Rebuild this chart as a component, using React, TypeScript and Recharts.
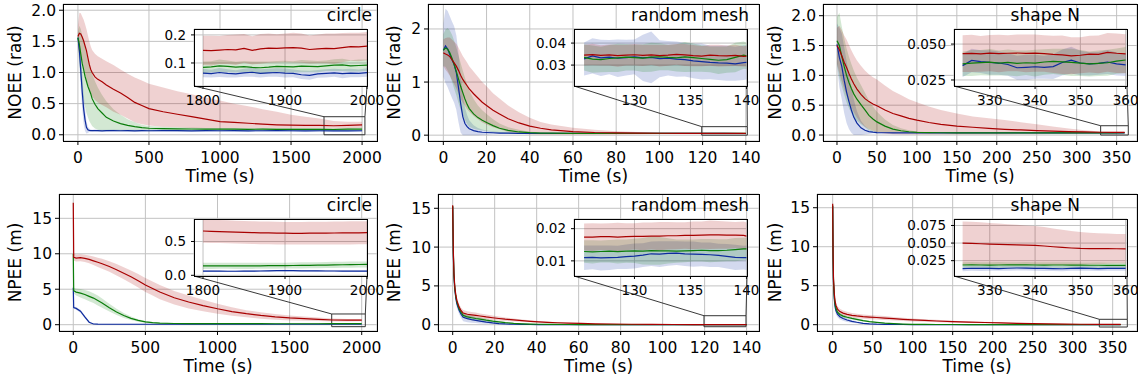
import React from "react";
import { ComposedChart, Area, Line, XAxis, YAxis, CartesianGrid, ReferenceArea } from "recharts";

const FONT = "'DejaVu Sans', Verdana, sans-serif";
const RED = "#a80000";
const GREEN = "#0b7d0b";
const BLUE = "#0d2b9e";
const GRID = "#c2c2c2";
const BAND_OPACITY = 0.18;

// ---- NOEE, circle (top left) ----
const OC_T = [0, 10, 20, 30, 40, 50, 60, 70, 80, 90, 100, 120, 140, 170, 200, 250, 300, 350, 400, 450, 500, 600, 700, 800, 900, 1000, 1100, 1200, 1300, 1400, 1500, 1600, 1700, 1800, 1900, 2000];
const OC_R = [1.58, 1.63, 1.62, 1.57, 1.51, 1.43, 1.35, 1.24, 1.13, 1.05, 1.0, 0.93, 0.89, 0.85, 0.8, 0.73, 0.67, 0.6, 0.52, 0.47, 0.42, 0.37, 0.33, 0.29, 0.25, 0.21, 0.2, 0.185, 0.17, 0.16, 0.155, 0.15, 0.15, 0.145, 0.152, 0.16];
const OC_R_HI = [1.75, 1.96, 1.95, 1.9, 1.85, 1.78, 1.7, 1.6, 1.5, 1.42, 1.36, 1.3, 1.26, 1.22, 1.18, 1.12, 1.05, 0.98, 0.92, 0.87, 0.82, 0.76, 0.7, 0.65, 0.6, 0.55, 0.5, 0.46, 0.41, 0.37, 0.32, 0.29, 0.26, 0.22, 0.21, 0.21];
const OC_R_LO = [1.4, 1.3, 1.25, 1.2, 1.1, 1.0, 0.9, 0.8, 0.72, 0.66, 0.62, 0.56, 0.52, 0.48, 0.44, 0.37, 0.32, 0.26, 0.2, 0.17, 0.15, 0.13, 0.12, 0.11, 0.1, 0.1, 0.1, 0.1, 0.1, 0.1, 0.1, 0.1, 0.1, 0.1, 0.1, 0.11];
const OC_G = [1.56, 1.45, 1.3, 1.15, 1.05, 0.94, 0.86, 0.78, 0.72, 0.66, 0.58, 0.49, 0.42, 0.35, 0.28, 0.22, 0.18, 0.15, 0.13, 0.115, 0.105, 0.1, 0.095, 0.093, 0.092, 0.09, 0.09, 0.088, 0.09, 0.088, 0.087, 0.088, 0.086, 0.085, 0.09, 0.092];
const OC_G_HI = [1.65, 1.75, 1.7, 1.6, 1.5, 1.4, 1.3, 1.2, 1.12, 1.05, 0.98, 0.86, 0.76, 0.64, 0.54, 0.41, 0.32, 0.25, 0.2, 0.16, 0.14, 0.13, 0.12, 0.115, 0.11, 0.11, 0.11, 0.11, 0.11, 0.11, 0.11, 0.11, 0.11, 0.11, 0.112, 0.114];
const OC_G_LO = [1.45, 1.15, 0.9, 0.7, 0.55, 0.45, 0.35, 0.28, 0.22, 0.18, 0.14, 0.1, 0.08, 0.07, 0.06, 0.06, 0.06, 0.06, 0.06, 0.06, 0.06, 0.065, 0.068, 0.07, 0.07, 0.07, 0.07, 0.068, 0.07, 0.068, 0.067, 0.068, 0.066, 0.065, 0.07, 0.072];
const OC_B = [1.56, 1.36, 1.03, 0.7, 0.42, 0.24, 0.12, 0.08, 0.07, 0.068, 0.066, 0.068, 0.066, 0.064, 0.066, 0.067, 0.065, 0.066, 0.064, 0.066, 0.065, 0.067, 0.066, 0.064, 0.066, 0.065, 0.066, 0.064, 0.065, 0.066, 0.065, 0.064, 0.065, 0.063, 0.064, 0.065];
const OC_B_HI = [1.62, 1.55, 1.3, 0.98, 0.66, 0.42, 0.22, 0.13, 0.1, 0.085, 0.082, 0.084, 0.082, 0.08, 0.082, 0.083, 0.081, 0.082, 0.08, 0.082, 0.081, 0.083, 0.082, 0.08, 0.082, 0.081, 0.082, 0.08, 0.081, 0.082, 0.081, 0.08, 0.081, 0.079, 0.08, 0.081];
const OC_B_LO = [1.5, 1.15, 0.75, 0.42, 0.18, 0.06, 0.02, 0.03, 0.045, 0.052, 0.05, 0.052, 0.05, 0.048, 0.05, 0.051, 0.049, 0.05, 0.048, 0.05, 0.049, 0.051, 0.05, 0.048, 0.05, 0.049, 0.05, 0.048, 0.049, 0.05, 0.049, 0.048, 0.049, 0.047, 0.048, 0.049];

// ---- NOEE, random mesh (top middle) ----
const OM_T = [0, 1, 2, 3, 4, 5, 6, 7, 8, 9, 10, 11, 12, 14, 16, 18, 20, 23, 26, 30, 35, 40, 45, 50, 60, 70, 80, 90, 100, 110, 120, 130, 140];
const OM_R = [1.55, 1.53, 1.51, 1.48, 1.42, 1.36, 1.3, 1.22, 1.13, 1.05, 0.99, 0.93, 0.87, 0.78, 0.7, 0.62, 0.56, 0.47, 0.4, 0.31, 0.23, 0.17, 0.13, 0.1, 0.068, 0.05, 0.042, 0.038, 0.036, 0.035, 0.035, 0.034, 0.034];
const OM_R_HI = [1.8, 1.83, 1.84, 1.84, 1.8, 1.76, 1.72, 1.65, 1.57, 1.49, 1.43, 1.37, 1.3, 1.2, 1.1, 1.0, 0.92, 0.79, 0.69, 0.56, 0.43, 0.33, 0.25, 0.2, 0.138, 0.1, 0.072, 0.058, 0.051, 0.045, 0.043, 0.04, 0.04];
const OM_R_LO = [1.3, 1.23, 1.18, 1.12, 1.04, 0.96, 0.88, 0.79, 0.69, 0.61, 0.55, 0.49, 0.44, 0.36, 0.3, 0.24, 0.2, 0.15, 0.11, 0.06, 0.03, 0.012, 0.01, 0.008, 0.008, 0.01, 0.014, 0.018, 0.021, 0.025, 0.027, 0.028, 0.028];
const OM_G = [1.6, 1.64, 1.62, 1.55, 1.45, 1.33, 1.2, 1.06, 0.92, 0.8, 0.68, 0.58, 0.5, 0.4, 0.33, 0.28, 0.24, 0.18, 0.13, 0.09, 0.06, 0.046, 0.04, 0.037, 0.035, 0.034, 0.034, 0.034, 0.034, 0.034, 0.034, 0.034, 0.034];
const OM_G_HI = [1.9, 1.99, 2.02, 1.97, 1.89, 1.78, 1.65, 1.51, 1.36, 1.22, 1.08, 0.95, 0.84, 0.68, 0.56, 0.47, 0.4, 0.3, 0.22, 0.15, 0.1, 0.066, 0.055, 0.047, 0.041, 0.04, 0.04, 0.04, 0.04, 0.04, 0.04, 0.04, 0.04];
const OM_G_LO = [1.3, 1.29, 1.22, 1.13, 1.01, 0.88, 0.75, 0.61, 0.48, 0.38, 0.28, 0.21, 0.16, 0.12, 0.1, 0.09, 0.08, 0.06, 0.04, 0.03, 0.02, 0.026, 0.025, 0.027, 0.029, 0.028, 0.028, 0.028, 0.028, 0.028, 0.028, 0.028, 0.028];
const OM_B = [1.6, 1.68, 1.62, 1.52, 1.42, 1.33, 1.18, 0.9, 0.6, 0.35, 0.22, 0.16, 0.12, 0.085, 0.065, 0.055, 0.05, 0.045, 0.04, 0.037, 0.035, 0.034, 0.034, 0.034, 0.034, 0.033, 0.033, 0.033, 0.033, 0.033, 0.033, 0.032, 0.031];
const OM_B_HI = [2.1, 2.38, 2.34, 2.24, 2.14, 2.05, 1.88, 1.55, 1.15, 0.75, 0.52, 0.38, 0.28, 0.185, 0.135, 0.105, 0.09, 0.075, 0.06, 0.052, 0.043, 0.042, 0.042, 0.042, 0.042, 0.041, 0.041, 0.041, 0.041, 0.041, 0.041, 0.04, 0.039];
const OM_B_LO = [1.1, 0.98, 0.9, 0.8, 0.7, 0.61, 0.48, 0.25, 0.05, 0.0, 0.0, 0.0, 0.0, 0.0, 0.0, 0.005, 0.01, 0.015, 0.02, 0.022, 0.027, 0.026, 0.026, 0.026, 0.026, 0.025, 0.025, 0.025, 0.025, 0.025, 0.025, 0.024, 0.023];

// ---- NOEE, shape N (top right) ----
const OS_T = [0, 3, 6, 9, 12, 15, 18, 21, 25, 30, 35, 40, 45, 50, 60, 70, 80, 90, 100, 115, 130, 150, 170, 190, 210, 230, 250, 270, 290, 310, 330, 345, 360];
const OS_R = [1.5, 1.43, 1.33, 1.22, 1.13, 1.03, 0.94, 0.86, 0.77, 0.68, 0.61, 0.56, 0.52, 0.49, 0.42, 0.36, 0.32, 0.28, 0.25, 0.21, 0.18, 0.15, 0.13, 0.11, 0.095, 0.085, 0.075, 0.066, 0.058, 0.052, 0.047, 0.043, 0.044];
const OS_R_HI = [1.8, 1.83, 1.76, 1.67, 1.6, 1.51, 1.42, 1.34, 1.25, 1.16, 1.08, 1.02, 0.97, 0.93, 0.83, 0.74, 0.67, 0.6, 0.55, 0.48, 0.42, 0.36, 0.31, 0.28, 0.25, 0.215, 0.18, 0.145, 0.11, 0.08, 0.058, 0.056, 0.057];
const OS_R_LO = [1.2, 1.03, 0.9, 0.77, 0.66, 0.55, 0.46, 0.38, 0.29, 0.2, 0.14, 0.1, 0.07, 0.05, 0.02, 0.012, 0.01, 0.01, 0.01, 0.01, 0.01, 0.01, 0.01, 0.01, 0.01, 0.012, 0.014, 0.016, 0.02, 0.024, 0.03, 0.031, 0.031];
const OS_G = [1.58, 1.5, 1.32, 1.15, 1.0, 0.88, 0.78, 0.69, 0.6, 0.51, 0.42, 0.33, 0.27, 0.22, 0.15, 0.1, 0.072, 0.055, 0.046, 0.04, 0.038, 0.037, 0.037, 0.037, 0.037, 0.037, 0.037, 0.037, 0.037, 0.037, 0.037, 0.037, 0.038];
const OS_G_HI = [1.98, 2.05, 1.82, 1.62, 1.45, 1.31, 1.19, 1.08, 0.96, 0.84, 0.71, 0.58, 0.48, 0.39, 0.26, 0.17, 0.112, 0.08, 0.061, 0.048, 0.046, 0.045, 0.045, 0.045, 0.045, 0.045, 0.045, 0.045, 0.045, 0.045, 0.045, 0.045, 0.046];
const OS_G_LO = [1.18, 0.95, 0.82, 0.68, 0.55, 0.45, 0.37, 0.3, 0.24, 0.18, 0.13, 0.08, 0.06, 0.05, 0.04, 0.03, 0.032, 0.03, 0.031, 0.032, 0.03, 0.029, 0.029, 0.029, 0.029, 0.029, 0.029, 0.029, 0.029, 0.029, 0.029, 0.029, 0.03];
const OS_B = [1.52, 1.3, 1.15, 0.92, 0.72, 0.56, 0.42, 0.3, 0.2, 0.12, 0.08, 0.058, 0.048, 0.042, 0.038, 0.037, 0.036, 0.036, 0.036, 0.036, 0.036, 0.036, 0.036, 0.036, 0.036, 0.036, 0.036, 0.036, 0.036, 0.036, 0.036, 0.036, 0.035];
const OS_B_HI = [1.87, 1.8, 1.7, 1.47, 1.24, 1.02, 0.8, 0.6, 0.4, 0.24, 0.15, 0.098, 0.068, 0.057, 0.046, 0.045, 0.044, 0.044, 0.044, 0.044, 0.044, 0.044, 0.044, 0.044, 0.044, 0.044, 0.044, 0.044, 0.044, 0.044, 0.044, 0.044, 0.043];
const OS_B_LO = [1.17, 0.8, 0.6, 0.37, 0.2, 0.1, 0.04, 0.0, 0.0, 0.0, 0.01, 0.018, 0.028, 0.027, 0.03, 0.029, 0.028, 0.028, 0.028, 0.028, 0.028, 0.028, 0.028, 0.028, 0.028, 0.028, 0.028, 0.028, 0.028, 0.028, 0.028, 0.028, 0.027];

// ---- NPEE, circle (bottom left) ----
const PC_T = [0, 3, 20, 50, 80, 110, 140, 170, 200, 250, 300, 350, 400, 450, 500, 550, 600, 700, 800, 900, 1000, 1100, 1200, 1300, 1400, 1500, 1600, 1700, 1800, 1900, 2000];
const PC_R = [17.2, 9.5, 9.4, 9.45, 9.35, 9.2, 9.0, 8.8, 8.6, 8.2, 7.75, 7.25, 6.75, 6.2, 5.6, 5.1, 4.6, 3.8, 3.2, 2.7, 2.25, 1.85, 1.55, 1.3, 1.1, 0.95, 0.85, 0.76, 0.66, 0.63, 0.64];
const PC_R_HI = [17.4, 10.0, 9.9, 9.95, 9.85, 9.75, 9.6, 9.45, 9.3, 8.95, 8.55, 8.1, 7.65, 7.15, 6.6, 6.1, 5.6, 4.75, 4.1, 3.5, 2.95, 2.45, 2.05, 1.75, 1.5, 1.3, 1.15, 1.01, 0.86, 0.81, 0.81];
const PC_R_LO = [17.0, 9.0, 8.9, 8.95, 8.85, 8.65, 8.4, 8.15, 7.9, 7.45, 6.95, 6.4, 5.85, 5.25, 4.6, 4.1, 3.6, 2.85, 2.3, 1.9, 1.55, 1.25, 1.05, 0.85, 0.7, 0.6, 0.55, 0.51, 0.46, 0.45, 0.47];
const PC_G = [10.0, 4.8, 4.6, 4.45, 4.25, 4.0, 3.75, 3.4, 3.05, 2.4, 1.8, 1.3, 0.9, 0.6, 0.4, 0.28, 0.22, 0.17, 0.15, 0.14, 0.14, 0.14, 0.138, 0.137, 0.136, 0.135, 0.135, 0.135, 0.14, 0.145, 0.155];
const PC_G_HI = [10.2, 5.2, 5.1, 5.05, 4.9, 4.7, 4.45, 4.1, 3.7, 2.95, 2.25, 1.65, 1.15, 0.78, 0.52, 0.36, 0.28, 0.22, 0.19, 0.18, 0.18, 0.18, 0.178, 0.177, 0.176, 0.175, 0.175, 0.175, 0.18, 0.185, 0.195];
const PC_G_LO = [9.8, 4.4, 4.1, 3.85, 3.6, 3.3, 3.05, 2.7, 2.4, 1.85, 1.35, 0.95, 0.65, 0.42, 0.28, 0.2, 0.16, 0.12, 0.11, 0.1, 0.1, 0.1, 0.098, 0.097, 0.096, 0.095, 0.095, 0.095, 0.1, 0.105, 0.115];
const PC_B = [5.2, 2.4, 2.3, 1.9, 1.1, 0.35, 0.1, 0.07, 0.065, 0.062, 0.06, 0.061, 0.06, 0.062, 0.061, 0.06, 0.062, 0.061, 0.06, 0.062, 0.061, 0.06, 0.061, 0.062, 0.061, 0.06, 0.061, 0.062, 0.062, 0.068, 0.062];
const PC_B_HI = [5.3, 2.55, 2.5, 2.1, 1.3, 0.47, 0.14, 0.09, 0.085, 0.082, 0.08, 0.081, 0.08, 0.082, 0.081, 0.08, 0.082, 0.081, 0.08, 0.082, 0.081, 0.08, 0.081, 0.082, 0.081, 0.08, 0.081, 0.082, 0.082, 0.088, 0.082];
const PC_B_LO = [5.1, 2.25, 2.1, 1.7, 0.9, 0.23, 0.06, 0.05, 0.045, 0.042, 0.04, 0.041, 0.04, 0.042, 0.041, 0.04, 0.042, 0.041, 0.04, 0.042, 0.041, 0.04, 0.041, 0.042, 0.041, 0.04, 0.041, 0.042, 0.042, 0.048, 0.042];

// ---- NPEE, random mesh (bottom middle) ----
const PM_T = [0, 0.3, 0.6, 1, 1.5, 2, 3, 4, 5, 7, 9, 11, 13, 16, 19, 22, 25, 29, 33, 37, 41, 45, 50, 55, 61, 68, 76, 85, 95, 105, 115, 125, 140];
const PM_R = [15.4, 9.5, 6.6, 4.9, 3.8, 3.1, 2.3, 1.8, 1.5, 1.35, 1.27, 1.2, 1.12, 1.0, 0.9, 0.8, 0.71, 0.62, 0.52, 0.44, 0.37, 0.31, 0.25, 0.2, 0.16, 0.12, 0.09, 0.06, 0.04, 0.028, 0.021, 0.018, 0.018];
const PM_R_HI = [15.7, 9.9, 7.0, 5.3, 4.2, 3.5, 2.7, 2.2, 1.9, 1.75, 1.65, 1.56, 1.46, 1.31, 1.18, 1.05, 0.93, 0.81, 0.68, 0.57, 0.48, 0.4, 0.32, 0.25, 0.2, 0.15, 0.11, 0.075, 0.05, 0.034, 0.026, 0.022, 0.022];
const PM_R_LO = [15.1, 9.1, 6.2, 4.5, 3.4, 2.7, 1.9, 1.4, 1.1, 0.95, 0.89, 0.84, 0.78, 0.69, 0.62, 0.55, 0.49, 0.43, 0.36, 0.31, 0.26, 0.22, 0.18, 0.15, 0.12, 0.09, 0.07, 0.045, 0.03, 0.022, 0.016, 0.014, 0.014];
const PM_G = [15.3, 9.3, 6.4, 4.7, 3.6, 2.9, 2.1, 1.6, 1.2, 1.0, 0.9, 0.8, 0.72, 0.58, 0.46, 0.36, 0.27, 0.18, 0.12, 0.08, 0.06, 0.045, 0.035, 0.028, 0.022, 0.018, 0.016, 0.015, 0.014, 0.013, 0.013, 0.013, 0.0135];
const PM_G_HI = [15.6, 9.65, 6.75, 5.05, 3.95, 3.25, 2.45, 1.95, 1.55, 1.3, 1.18, 1.06, 0.96, 0.78, 0.62, 0.49, 0.37, 0.25, 0.17, 0.115, 0.085, 0.06, 0.043, 0.034, 0.027, 0.022, 0.02, 0.019, 0.018, 0.017, 0.017, 0.017, 0.0175];
const PM_G_LO = [15.0, 8.95, 6.05, 4.35, 3.25, 2.55, 1.75, 1.25, 0.85, 0.7, 0.62, 0.54, 0.48, 0.38, 0.3, 0.23, 0.17, 0.11, 0.07, 0.045, 0.035, 0.03, 0.027, 0.022, 0.017, 0.014, 0.012, 0.011, 0.01, 0.009, 0.009, 0.009, 0.0095];
const PM_B = [15.2, 9.0, 6.2, 4.5, 3.4, 2.7, 1.9, 1.35, 0.95, 0.78, 0.66, 0.56, 0.47, 0.34, 0.23, 0.15, 0.1, 0.06, 0.04, 0.03, 0.024, 0.02, 0.017, 0.015, 0.014, 0.013, 0.012, 0.012, 0.011, 0.011, 0.011, 0.011, 0.011];
const PM_B_HI = [15.6, 9.5, 6.7, 5.0, 3.9, 3.2, 2.4, 1.85, 1.45, 1.23, 1.06, 0.91, 0.77, 0.56, 0.38, 0.25, 0.17, 0.1, 0.065, 0.045, 0.032, 0.026, 0.022, 0.02, 0.018, 0.017, 0.016, 0.016, 0.015, 0.015, 0.015, 0.015, 0.015];
const PM_B_LO = [14.8, 8.5, 5.7, 4.0, 2.9, 2.2, 1.4, 0.85, 0.45, 0.33, 0.26, 0.21, 0.17, 0.12, 0.08, 0.05, 0.03, 0.02, 0.015, 0.015, 0.016, 0.014, 0.012, 0.01, 0.01, 0.009, 0.008, 0.008, 0.007, 0.007, 0.007, 0.007, 0.007];

// ---- NPEE, shape N (bottom right) ----
const PS_T = [0, 0.5, 1, 2, 3, 4, 6, 9, 13, 18, 24, 30, 38, 46, 55, 65, 76, 88, 100, 115, 130, 150, 170, 190, 210, 230, 250, 270, 290, 310, 330, 345, 360];
const PS_R = [15.5, 9.0, 6.0, 4.0, 3.0, 2.5, 2.0, 1.68, 1.48, 1.33, 1.2, 1.12, 1.04, 0.98, 0.92, 0.85, 0.77, 0.68, 0.61, 0.54, 0.47, 0.39, 0.33, 0.28, 0.23, 0.18, 0.14, 0.1, 0.075, 0.058, 0.049, 0.046, 0.042];
const PS_R_HI = [15.8, 9.4, 6.4, 4.4, 3.4, 2.9, 2.38, 2.04, 1.82, 1.65, 1.5, 1.41, 1.32, 1.25, 1.18, 1.1, 1.0, 0.89, 0.8, 0.71, 0.62, 0.52, 0.44, 0.37, 0.305, 0.24, 0.19, 0.14, 0.11, 0.088, 0.079, 0.072, 0.063];
const PS_R_LO = [15.2, 8.6, 5.6, 3.6, 2.6, 2.1, 1.62, 1.32, 1.14, 1.01, 0.9, 0.83, 0.76, 0.71, 0.66, 0.6, 0.54, 0.47, 0.42, 0.37, 0.32, 0.26, 0.22, 0.19, 0.155, 0.12, 0.09, 0.06, 0.04, 0.028, 0.019, 0.02, 0.021];
const PS_G = [15.3, 8.7, 5.7, 3.6, 2.6, 2.1, 1.6, 1.3, 1.1, 0.95, 0.8, 0.68, 0.52, 0.4, 0.3, 0.2, 0.13, 0.08, 0.05, 0.033, 0.026, 0.022, 0.02, 0.019, 0.019, 0.019, 0.019, 0.019, 0.019, 0.019, 0.0188, 0.0185, 0.0183];
const PS_G_HI = [15.6, 9.05, 6.05, 3.95, 2.93, 2.4, 1.87, 1.54, 1.3, 1.12, 0.95, 0.81, 0.62, 0.48, 0.36, 0.24, 0.155, 0.095, 0.06, 0.04, 0.031, 0.026, 0.024, 0.023, 0.023, 0.023, 0.023, 0.023, 0.023, 0.023, 0.0228, 0.0225, 0.0223];
const PS_G_LO = [15.0, 8.35, 5.35, 3.25, 2.27, 1.8, 1.33, 1.06, 0.9, 0.78, 0.65, 0.55, 0.42, 0.32, 0.24, 0.16, 0.105, 0.065, 0.04, 0.026, 0.021, 0.018, 0.016, 0.015, 0.015, 0.015, 0.015, 0.015, 0.015, 0.015, 0.0148, 0.0145, 0.0143];
const PS_B = [15.2, 8.5, 5.4, 3.3, 2.3, 1.8, 1.35, 1.02, 0.8, 0.6, 0.43, 0.31, 0.18, 0.11, 0.065, 0.04, 0.028, 0.021, 0.018, 0.016, 0.015, 0.014, 0.014, 0.014, 0.014, 0.014, 0.014, 0.014, 0.014, 0.014, 0.014, 0.014, 0.014];
const PS_B_HI = [15.6, 9.0, 5.9, 3.8, 2.78, 2.25, 1.75, 1.37, 1.1, 0.84, 0.61, 0.44, 0.26, 0.16, 0.095, 0.058, 0.038, 0.027, 0.023, 0.02, 0.019, 0.018, 0.018, 0.018, 0.018, 0.018, 0.018, 0.018, 0.018, 0.018, 0.018, 0.018, 0.018];
const PS_B_LO = [14.8, 8.0, 4.9, 2.8, 1.82, 1.35, 0.95, 0.67, 0.5, 0.36, 0.25, 0.18, 0.1, 0.06, 0.035, 0.022, 0.018, 0.015, 0.013, 0.012, 0.011, 0.01, 0.01, 0.01, 0.01, 0.01, 0.01, 0.01, 0.01, 0.01, 0.01, 0.01, 0.01];

// ---- inset (zoomed tail) series: mean and std ----
const CIRCLE_IN_T = [1800, 1810, 1820, 1830, 1840, 1850, 1860, 1870, 1880, 1890, 1900, 1910, 1920, 1930, 1940, 1950, 1960, 1970, 1980, 1990, 2000];
const MESH_IN_T = [125.5, 126.25, 127, 127.75, 128.5, 129.25, 130, 130.75, 131.5, 132.25, 133, 133.75, 134.5, 135.25, 136, 136.75, 137.5, 138.25, 139, 139.75, 140];
const SHAPE_IN_T = [324, 326, 328, 330, 332, 334, 336, 338, 340, 342, 344, 346, 348, 350, 352, 354, 356, 358, 360];

const OC_IN_R = [0.145, 0.144, 0.146, 0.148, 0.147, 0.152, 0.145, 0.15, 0.153, 0.152, 0.154, 0.155, 0.153, 0.148, 0.15, 0.152, 0.151, 0.155, 0.158, 0.157, 0.16];
const OC_IN_R_SD = [0.052, 0.053, 0.05, 0.052, 0.054, 0.051, 0.05, 0.053, 0.052, 0.05, 0.051, 0.053, 0.052, 0.05, 0.051, 0.053, 0.054, 0.052, 0.05, 0.051, 0.05];
const OC_IN_G = [0.084, 0.086, 0.09, 0.088, 0.085, 0.087, 0.084, 0.083, 0.085, 0.088, 0.087, 0.086, 0.089, 0.088, 0.087, 0.09, 0.092, 0.093, 0.09, 0.091, 0.092];
const OC_IN_G_SD = [0.021, 0.02, 0.022, 0.021, 0.019, 0.02, 0.021, 0.022, 0.02, 0.019, 0.021, 0.02, 0.022, 0.021, 0.02, 0.019, 0.021, 0.022, 0.02, 0.021, 0.02];
const OC_IN_B = [0.064, 0.062, 0.066, 0.063, 0.061, 0.065, 0.067, 0.063, 0.065, 0.066, 0.064, 0.063, 0.058, 0.056, 0.061, 0.063, 0.065, 0.062, 0.064, 0.063, 0.066];
const OC_IN_B_SD = [0.015, 0.014, 0.016, 0.015, 0.013, 0.014, 0.016, 0.015, 0.014, 0.015, 0.016, 0.014, 0.015, 0.016, 0.014, 0.015, 0.014, 0.016, 0.015, 0.014, 0.015];

const OM_IN_R = [0.0345, 0.0348, 0.0344, 0.0346, 0.0343, 0.0345, 0.0347, 0.0344, 0.0346, 0.0343, 0.0345, 0.0349, 0.0346, 0.0343, 0.0341, 0.0345, 0.0343, 0.0342, 0.0344, 0.034, 0.0341];
const OM_IN_R_SD = [0.0047, 0.0049, 0.0046, 0.0048, 0.005, 0.0047, 0.0049, 0.0048, 0.0046, 0.0049, 0.0048, 0.0047, 0.005, 0.0048, 0.0046, 0.0048, 0.0049, 0.0047, 0.0048, 0.0046, 0.0047];
const OM_IN_G = [0.0335, 0.0327, 0.0325, 0.033, 0.0333, 0.0336, 0.0334, 0.0332, 0.0336, 0.0338, 0.0335, 0.0333, 0.0337, 0.0334, 0.033, 0.0326, 0.0322, 0.0325, 0.0335, 0.0345, 0.0342];
const OM_IN_G_SD = [0.006, 0.0062, 0.0058, 0.0061, 0.0064, 0.006, 0.0059, 0.0063, 0.0066, 0.0061, 0.0058, 0.0062, 0.0068, 0.0064, 0.006, 0.0059, 0.0063, 0.006, 0.0067, 0.0062, 0.006];
const OM_IN_B = [0.0328, 0.0342, 0.0333, 0.0336, 0.0331, 0.0334, 0.0337, 0.0333, 0.0335, 0.0329, 0.0331, 0.0327, 0.0325, 0.0319, 0.0316, 0.0312, 0.031, 0.0309, 0.0306, 0.0311, 0.0312];
const OM_IN_B_SD = [0.0075, 0.008, 0.0082, 0.0078, 0.0085, 0.0081, 0.0079, 0.0105, 0.0118, 0.0084, 0.0078, 0.008, 0.0077, 0.0079, 0.0082, 0.0076, 0.0078, 0.008, 0.0077, 0.0079, 0.0078];

const OS_IN_R = [0.0433, 0.0435, 0.0432, 0.0437, 0.0434, 0.0436, 0.0438, 0.0435, 0.0437, 0.0434, 0.0428, 0.0425, 0.0418, 0.0422, 0.043, 0.0428, 0.0442, 0.0436, 0.0432];
const OS_IN_R_SD = [0.0128, 0.013, 0.0125, 0.0127, 0.0131, 0.0126, 0.0128, 0.0132, 0.0129, 0.0127, 0.013, 0.0134, 0.0129, 0.0126, 0.0128, 0.0131, 0.0135, 0.0138, 0.0136];
const OS_IN_G = [0.0362, 0.0368, 0.0371, 0.0374, 0.0368, 0.0372, 0.0366, 0.037, 0.0368, 0.0375, 0.0379, 0.0376, 0.0372, 0.0368, 0.0362, 0.0366, 0.037, 0.0381, 0.0389];
const OS_IN_G_SD = [0.0085, 0.009, 0.0088, 0.0092, 0.0087, 0.0091, 0.009, 0.0086, 0.0093, 0.0089, 0.0088, 0.0092, 0.0095, 0.009, 0.0087, 0.0089, 0.0091, 0.0088, 0.009];
const OS_IN_B = [0.035, 0.0386, 0.0378, 0.0372, 0.0368, 0.0358, 0.0335, 0.0338, 0.0342, 0.0338, 0.0343, 0.0372, 0.0388, 0.0368, 0.0362, 0.0365, 0.0375, 0.0362, 0.0355];
const OS_IN_B_SD = [0.008, 0.0082, 0.0079, 0.0085, 0.0081, 0.0078, 0.0083, 0.0087, 0.0084, 0.008, 0.0086, 0.009, 0.0093, 0.0085, 0.0081, 0.0079, 0.0083, 0.008, 0.0078];

const PC_IN_R = [0.655, 0.65, 0.646, 0.642, 0.638, 0.634, 0.631, 0.628, 0.626, 0.624, 0.622, 0.621, 0.621, 0.622, 0.623, 0.624, 0.625, 0.626, 0.627, 0.628, 0.63];
const PC_IN_R_SD = [0.172, 0.171, 0.17, 0.17, 0.169, 0.169, 0.168, 0.168, 0.168, 0.167, 0.167, 0.167, 0.167, 0.168, 0.168, 0.168, 0.169, 0.169, 0.17, 0.17, 0.17];
const PC_IN_G = [0.14, 0.14, 0.141, 0.14, 0.139, 0.139, 0.14, 0.141, 0.142, 0.142, 0.143, 0.145, 0.146, 0.148, 0.15, 0.152, 0.154, 0.156, 0.158, 0.16, 0.161];
const PC_IN_G_SD = [0.045, 0.046, 0.045, 0.044, 0.045, 0.046, 0.045, 0.044, 0.045, 0.045, 0.044, 0.045, 0.046, 0.045, 0.044, 0.045, 0.045, 0.044, 0.045, 0.046, 0.045];
const PC_IN_B = [0.062, 0.062, 0.061, 0.06, 0.06, 0.061, 0.062, 0.064, 0.066, 0.068, 0.069, 0.068, 0.067, 0.066, 0.065, 0.064, 0.064, 0.063, 0.063, 0.062, 0.062];
const PC_IN_B_SD = [0.012, 0.013, 0.012, 0.011, 0.012, 0.013, 0.012, 0.012, 0.011, 0.012, 0.013, 0.012, 0.012, 0.011, 0.012, 0.013, 0.012, 0.012, 0.011, 0.012, 0.012];

const PM_IN_R = [0.0174, 0.0174, 0.0175, 0.0175, 0.0174, 0.0175, 0.0176, 0.0176, 0.0177, 0.0177, 0.0178, 0.0178, 0.0179, 0.0179, 0.018, 0.0181, 0.0181, 0.018, 0.018, 0.0179, 0.0177];
const PM_IN_R_SD = [0.0042, 0.0043, 0.0041, 0.0042, 0.0044, 0.0042, 0.0041, 0.0043, 0.0042, 0.0044, 0.0043, 0.0042, 0.0041, 0.0043, 0.0042, 0.0044, 0.0043, 0.0042, 0.0041, 0.0043, 0.0042];
const PM_IN_G = [0.0129, 0.0128, 0.0129, 0.013, 0.0129, 0.013, 0.0131, 0.013, 0.0132, 0.0131, 0.0131, 0.013, 0.0131, 0.0132, 0.0133, 0.0132, 0.0132, 0.0133, 0.0135, 0.0137, 0.0137];
const PM_IN_G_SD = [0.0035, 0.0036, 0.0034, 0.0035, 0.0037, 0.0036, 0.0038, 0.0041, 0.0044, 0.0043, 0.0039, 0.0036, 0.0035, 0.0034, 0.0035, 0.0036, 0.0035, 0.0034, 0.0036, 0.0035, 0.0035];
const PM_IN_B = [0.011, 0.0111, 0.0109, 0.011, 0.0111, 0.0113, 0.0115, 0.0118, 0.0122, 0.0121, 0.0123, 0.0124, 0.0122, 0.0121, 0.012, 0.0119, 0.0117, 0.0114, 0.0111, 0.011, 0.011];
const PM_IN_B_SD = [0.0038, 0.0037, 0.0039, 0.0038, 0.0036, 0.0038, 0.0039, 0.0037, 0.0038, 0.004, 0.0038, 0.0037, 0.0038, 0.0039, 0.0037, 0.0038, 0.0036, 0.0038, 0.0039, 0.0037, 0.0038];

const PS_IN_R = [0.0498, 0.0495, 0.049, 0.0486, 0.0482, 0.0478, 0.0474, 0.047, 0.0466, 0.0458, 0.0448, 0.0438, 0.043, 0.0424, 0.0421, 0.042, 0.042, 0.0419, 0.0418];
const PS_IN_R_SD = [0.031, 0.0308, 0.0305, 0.03, 0.0295, 0.029, 0.0285, 0.028, 0.0275, 0.027, 0.026, 0.025, 0.024, 0.0232, 0.0225, 0.022, 0.0215, 0.021, 0.021];
const PS_IN_G = [0.0188, 0.0189, 0.0188, 0.0187, 0.0188, 0.0189, 0.019, 0.0189, 0.0188, 0.0187, 0.0188, 0.0188, 0.0187, 0.0186, 0.0185, 0.0185, 0.0184, 0.0184, 0.0183];
const PS_IN_G_SD = [0.004, 0.0041, 0.0039, 0.004, 0.0042, 0.004, 0.0039, 0.0041, 0.004, 0.0039, 0.004, 0.0041, 0.004, 0.0039, 0.004, 0.0041, 0.004, 0.0039, 0.004];
const PS_IN_B = [0.0136, 0.0142, 0.0139, 0.0141, 0.0138, 0.0142, 0.0146, 0.0144, 0.0141, 0.0139, 0.0137, 0.0135, 0.0139, 0.0143, 0.0141, 0.0138, 0.014, 0.0142, 0.0139];
const PS_IN_B_SD = [0.0035, 0.0034, 0.0036, 0.0035, 0.0033, 0.0035, 0.0036, 0.0034, 0.0035, 0.0036, 0.0034, 0.0035, 0.0033, 0.0035, 0.0036, 0.0034, 0.0035, 0.0036, 0.0034];

type Box = { l: number; r: number; t: number; b: number };
type Row = { x: number; r: number; g: number; b: number; rb: number[]; gb: number[]; bb: number[] };

function mainRows(t: number[], red: number[][], green: number[][], blue: number[][]): Row[] {
  return t.map((x, i) => ({
    x,
    r: red[0][i], rb: [red[1][i], red[2][i]],
    g: green[0][i], gb: [green[1][i], green[2][i]],
    b: blue[0][i], bb: [blue[1][i], blue[2][i]],
  }));
}

function insetRows(t: number[], red: number[][], green: number[][], blue: number[][]): Row[] {
  const band = (s: number[][], i: number) => [s[0][i] - s[1][i], s[0][i] + s[1][i]];
  return t.map((x, i) => ({
    x, r: red[0][i], rb: band(red, i), g: green[0][i], gb: band(green, i), b: blue[0][i], bb: band(blue, i),
  }));
}

type InsetSpec = { box: Box; xDom: number[]; yDom: number[]; xTicks: number[]; yTicks: number[]; yDec: number; rows: Row[] };
type PanelSpec = {
  id: string; box: Box; xDom: number[]; yDom: number[]; xTicks: number[]; yTicks: number[]; yDec: number;
  rows: Row[]; yLabel: string; labelX: number; title: string; titleX: number; titleY: number;
  zoom: { x1: number; x2: number; y1: number; y2: number }; inset: InsetSpec;
};

const PANELS: PanelSpec[] = [
  {
    id: "oc", box: { l: 63, r: 377, t: 4, b: 141 }, xDom: [-105, 2105], yDom: [-0.1, 2.1],
    xTicks: [0, 500, 1000, 1500, 2000], yTicks: [0, 0.5, 1, 1.5, 2], yDec: 1,
    rows: mainRows(OC_T, [OC_R, OC_R_LO, OC_R_HI], [OC_G, OC_G_LO, OC_G_HI], [OC_B, OC_B_LO, OC_B_HI]),
    yLabel: "NOEE (rad)", labelX: 14.5, title: "circle", titleX: 372, titleY: 20.5,
    zoom: { x1: 1732, x2: 2020, y1: 0, y2: 0.29 },
    inset: {
      box: { l: 194, r: 367, t: 29, b: 86 }, xDom: [1789, 2000], yDom: [0.018, 0.221],
      xTicks: [1800, 1900, 2000], yTicks: [0.1, 0.2], yDec: 1,
      rows: insetRows(CIRCLE_IN_T, [OC_IN_R, OC_IN_R_SD], [OC_IN_G, OC_IN_G_SD], [OC_IN_B, OC_IN_B_SD]),
    },
  },
  {
    id: "om", box: { l: 428, r: 759, t: 4, b: 141 }, xDom: [-7.1, 146.1], yDom: [-0.11, 2.47],
    xTicks: [0, 20, 40, 60, 80, 100, 120, 140], yTicks: [0, 1, 2], yDec: 0,
    rows: mainRows(OM_T, [OM_R, OM_R_LO, OM_R_HI], [OM_G, OM_G_LO, OM_G_HI], [OM_B, OM_B_LO, OM_B_HI]),
    yLabel: "NOEE (rad)", labelX: 394, title: "random mesh", titleX: 749, titleY: 20.5,
    zoom: { x1: 119.6, x2: 140.7, y1: 0, y2: 0.16 },
    inset: {
      box: { l: 574, r: 747, t: 29, b: 86 }, xDom: [124.6, 140.05], yDom: [0.0205, 0.0464],
      xTicks: [130, 135, 140], yTicks: [0.03, 0.04], yDec: 2,
      rows: insetRows(MESH_IN_T, [OM_IN_R, OM_IN_R_SD], [OM_IN_G, OM_IN_G_SD], [OM_IN_B, OM_IN_B_SD]),
    },
  },
  {
    id: "os", box: { l: 823, r: 1137, t: 4, b: 141 }, xDom: [-17.5, 375.5], yDom: [-0.1, 2.196],
    xTicks: [0, 50, 100, 150, 200, 250, 300, 350], yTicks: [0, 0.5, 1, 1.5, 2], yDec: 1,
    rows: mainRows(OS_T, [OS_R, OS_R_LO, OS_R_HI], [OS_G, OS_G_LO, OS_G_HI], [OS_B, OS_B_LO, OS_B_HI]),
    yLabel: "NOEE (rad)", labelX: 774.5, title: "shape N", titleX: 1080, titleY: 20.5,
    zoom: { x1: 330, x2: 364.6, y1: 0, y2: 0.156 },
    inset: {
      box: { l: 954, r: 1127, t: 29, b: 86 }, xDom: [322.1, 360.3], yDom: [0.0208, 0.0605],
      xTicks: [330, 340, 350, 360], yTicks: [0.025, 0.05], yDec: 3,
      rows: insetRows(SHAPE_IN_T, [OS_IN_R, OS_IN_R_SD], [OS_IN_G, OS_IN_G_SD], [OS_IN_B, OS_IN_B_SD]),
    },
  },
  {
    id: "pc", box: { l: 59, r: 377, t: 194, b: 331 }, xDom: [-99, 2106], yDom: [-0.89, 18.43],
    xTicks: [0, 500, 1000, 1500, 2000], yTicks: [0, 5, 10, 15], yDec: 0,
    rows: mainRows(PC_T, [PC_R, PC_R_LO, PC_R_HI], [PC_G, PC_G_LO, PC_G_HI], [PC_B, PC_B_LO, PC_B_HI]),
    yLabel: "NPEE (m)", labelX: 14.5, title: "circle", titleX: 372, titleY: 210.5,
    zoom: { x1: 1792, x2: 2025, y1: -0.28, y2: 1.51 },
    inset: {
      box: { l: 194, r: 367, t: 219, b: 276 }, xDom: [1789, 2000], yDom: [-0.01, 0.832],
      xTicks: [1800, 1900, 2000], yTicks: [0, 0.5], yDec: 1,
      rows: insetRows(CIRCLE_IN_T, [PC_IN_R, PC_IN_R_SD], [PC_IN_G, PC_IN_G_SD], [PC_IN_B, PC_IN_B_SD]),
    },
  },
  {
    id: "pm", box: { l: 438, r: 759, t: 194, b: 331 }, xDom: [-7, 145.9], yDom: [-0.81, 16.84],
    xTicks: [0, 20, 40, 60, 80, 100, 120, 140], yTicks: [0, 5, 10, 15], yDec: 0,
    rows: mainRows(PM_T, [PM_R, PM_R_LO, PM_R_HI], [PM_G, PM_G_LO, PM_G_HI], [PM_B, PM_B_LO, PM_B_HI]),
    yLabel: "NPEE (m)", labelX: 394, title: "random mesh", titleX: 749, titleY: 210.5,
    zoom: { x1: 119.7, x2: 139.7, y1: -0.26, y2: 1.16 },
    inset: {
      box: { l: 574, r: 747, t: 219, b: 276 }, xDom: [124.6, 140.05], yDom: [0.0053, 0.023],
      xTicks: [130, 135, 140], yTicks: [0.01, 0.02], yDec: 2,
      rows: insetRows(MESH_IN_T, [PM_IN_R, PM_IN_R_SD], [PM_IN_G, PM_IN_G_SD], [PM_IN_B, PM_IN_B_SD]),
    },
  },
  {
    id: "ps", box: { l: 817, r: 1137, t: 194, b: 331 }, xDom: [-19.6, 380.4], yDom: [-0.81, 16.76],
    xTicks: [0, 50, 100, 150, 200, 250, 300, 350], yTicks: [0, 5, 10, 15], yDec: 0,
    rows: mainRows(PS_T, [PS_R, PS_R_LO, PS_R_HI], [PS_G, PS_G_LO, PS_G_HI], [PS_B, PS_B_LO, PS_B_HI]),
    yLabel: "NPEE (m)", labelX: 774.5, title: "shape N", titleX: 1080, titleY: 210.5,
    zoom: { x1: 333.3, x2: 368.3, y1: -0.3, y2: 0.69 },
    inset: {
      box: { l: 954, r: 1127, t: 219, b: 276 }, xDom: [322.1, 360.3], yDom: [0.0032, 0.0842],
      xTicks: [330, 340, 350, 360], yTicks: [0.025, 0.05, 0.075], yDec: 3,
      rows: insetRows(SHAPE_IN_T, [PS_IN_R, PS_IN_R_SD], [PS_IN_G, PS_IN_G_SD], [PS_IN_B, PS_IN_B_SD]),
    },
  },
];

// main axes layout
const YW = 62;
const XH = 46;
const MT = 2;
const MR = 16;
// inset layout
const IYW = 50;
const IXH = 28;
const IMR = 18;

function series(width: number) {
  const band = (key: string, color: string) => (
    <Area key={key} dataKey={key} type="linear" stroke="none" fill={color} fillOpacity={BAND_OPACITY} isAnimationActive={false} />
  );
  const line = (key: string, color: string) => (
    <Line key={key} dataKey={key} type="linear" stroke={color} strokeWidth={width} dot={false} activeDot={false} isAnimationActive={false} />
  );
  return [band("bb", BLUE), band("gb", GREEN), band("rb", RED), line("b", BLUE), line("g", GREEN), line("r", RED)];
}

function MainPanel({ p }: { p: PanelSpec }) {
  const { box } = p;
  const left = box.l - YW;
  return (
    <div style={{ position: "absolute", left, top: box.t - MT }}>
      <ComposedChart width={box.r - box.l + YW + MR} height={box.b - box.t + MT + XH} data={p.rows} margin={{ top: MT, right: MR, left: 0, bottom: 0 }}>
        <CartesianGrid stroke={GRID} strokeWidth={1} />
        <XAxis
          dataKey="x" type="number" domain={p.xDom} ticks={p.xTicks} allowDataOverflow interval={0} height={XH}
          axisLine={false} tickSize={4} tickMargin={7} tickLine={{ stroke: "#000" }} tick={{ fontSize: 15.5, fill: "#000" }}
          label={{ value: "Time (s)", position: "insideBottom", offset: 5, style: { fontSize: 17, fill: "#000" } }}
        />
        <YAxis
          type="number" domain={p.yDom} ticks={p.yTicks} allowDataOverflow interval={0} width={YW}
          axisLine={false} tickSize={4} tickMargin={3} tickLine={{ stroke: "#000" }} tick={{ fontSize: 15.5, fill: "#000" }}
          tickFormatter={(v: number) => v.toFixed(p.yDec)}
          label={{ value: p.yLabel, angle: -90, position: "insideLeft", offset: p.labelX - left, style: { fontSize: 17, fill: "#000", textAnchor: "middle" } }}
        />
        {series(1.2)}
        <ReferenceArea x1={p.zoom.x1} x2={p.zoom.x2} y1={p.zoom.y1} y2={p.zoom.y2} fill="none" stroke="#333" strokeWidth={1} ifOverflow="visible" />
      </ComposedChart>
    </div>
  );
}

function InsetPanel({ s }: { s: InsetSpec }) {
  const { box } = s;
  return (
    <div style={{ position: "absolute", left: box.l - IYW, top: box.t - MT }}>
      <ComposedChart width={box.r - box.l + IYW + IMR} height={box.b - box.t + MT + IXH} data={s.rows} margin={{ top: MT, right: IMR, left: 0, bottom: 0 }}>
        <CartesianGrid stroke={GRID} strokeWidth={1} fill="#fff" fillOpacity={1} />
        <XAxis
          dataKey="x" type="number" domain={s.xDom} ticks={s.xTicks} allowDataOverflow interval={0} height={IXH}
          axisLine={false} tickSize={3} tickMargin={6} tickLine={{ stroke: "#000" }} tick={{ fontSize: 13.5, fill: "#000" }}
        />
        <YAxis
          type="number" domain={s.yDom} ticks={s.yTicks} allowDataOverflow interval={0} width={IYW}
          axisLine={false} tickSize={3} tickMargin={5} tickLine={{ stroke: "#000" }} tick={{ fontSize: 13.5, fill: "#000" }}
          tickFormatter={(v: number) => v.toFixed(s.yDec)}
        />
        {series(1.2)}
      </ComposedChart>
    </div>
  );
}

// data -> page pixel, same linear mapping the chart's scales use
function toPx(box: Box, xDom: number[], yDom: number[], x: number, y: number) {
  return [
    box.l + ((x - xDom[0]) / (xDom[1] - xDom[0])) * (box.r - box.l),
    box.b - ((y - yDom[0]) / (yDom[1] - yDom[0])) * (box.b - box.t),
  ];
}

function Overlay() {
  return (
    <svg width={1138} height={383} style={{ position: "absolute", left: 0, top: 0, pointerEvents: "none" }}>
      {PANELS.map((p) => {
        const ib = p.inset.box;
        const [ax, ay] = toPx(p.box, p.xDom, p.yDom, p.zoom.x1, p.zoom.y2);
        const [bx, by] = toPx(p.box, p.xDom, p.yDom, p.zoom.x2, p.zoom.y2);
        return (
          <g key={p.id}>
            <line x1={ax} y1={ay} x2={ib.l} y2={ib.b} stroke="#222" strokeWidth={0.9} />
            <line x1={bx} y1={by} x2={ib.r} y2={ib.b} stroke="#222" strokeWidth={0.9} />
            <rect x={p.box.l} y={p.box.t} width={p.box.r - p.box.l} height={p.box.b - p.box.t} fill="none" stroke="#000" strokeWidth={1} shapeRendering="crispEdges" />
            <rect x={ib.l} y={ib.t} width={ib.r - ib.l} height={ib.b - ib.t} fill="none" stroke="#000" strokeWidth={1} shapeRendering="crispEdges" />
            <text x={p.titleX} y={p.titleY} textAnchor="end" fontSize={17} fontFamily={FONT} fill="#000">{p.title}</text>
          </g>
        );
      })}
    </svg>
  );
}

export default function App() {
  return (
    <div style={{ position: "absolute", left: 0, top: 0, width: 1138, height: 383, overflow: "hidden", background: "#fff", fontFamily: FONT }}>
      {PANELS.map((p) => <MainPanel key={p.id} p={p} />)}
      {PANELS.map((p) => <InsetPanel key={p.id} s={p.inset} />)}
      <Overlay />
    </div>
  );
}
